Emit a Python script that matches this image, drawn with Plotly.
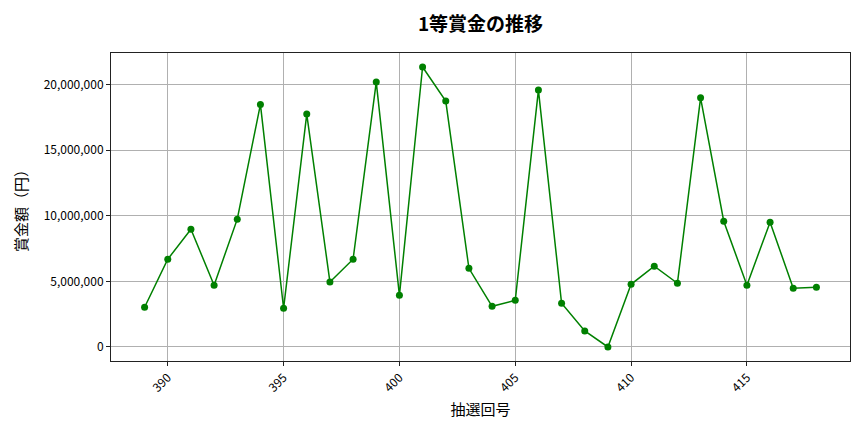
import plotly.graph_objects as go

# ============================================================
# DATA
# ============================================================
draw_no = list(range(389, 419))
prize = [
    3030000, 6690000, 8980000, 4710000, 9750000, 18500000, 2950000, 17760000,
    4960000, 6690000, 20200000, 3940000, 21350000, 18750000, 6000000, 3100000,
    3560000, 19590000, 3330000, 1220000, 0, 4780000, 6160000, 4860000,
    19000000, 9590000, 4710000, 9520000, 4480000, 4550000,
]
x_ticks = [390, 395, 400, 405, 410, 415]
y_ticks = [0, 5000000, 10000000, 15000000, 20000000]

FONT = "Noto Sans CJK JP"

# ============================================================
# FIGURE
# ============================================================
fig = go.Figure(
    go.Scatter(
        x=draw_no,
        y=prize,
        mode="lines+markers",
        line=dict(color="green", width=1.5),
        marker=dict(color="green", size=7),
    )
)

# page body has ~8px default margin, so shift the plot area back
fig.update_layout(
    width=864,
    height=432,
    plot_bgcolor="white",
    paper_bgcolor="white",
    showlegend=False,
    font=dict(family=FONT, size=12, color="black"),
    margin=dict(l=103, r=22, t=45, b=79),
    title=dict(
        text="<b>1等賞金の推移</b>",
        x=0.5, xref="paper", y=0.962, yanchor="middle",
        font=dict(family=FONT, size=19, color="black"),
    ),
)

fig.update_xaxes(
    range=[387.55, 419.45],
    tickvals=x_ticks,
    tickangle=-45,
    showgrid=True, gridcolor="#b0b0b0", gridwidth=1,
    showline=True, linecolor="#222", linewidth=1, mirror=True,
    ticks="outside", ticklen=4, tickcolor="#222",
    zeroline=False,
    title=dict(text="抽選回号", font=dict(family=FONT, size=15), standoff=10),
)

fig.update_yaxes(
    range=[-1070000, 22420000],
    tickvals=y_ticks,
    tickformat=",d",
    showgrid=True, gridcolor="#b0b0b0", gridwidth=1,
    showline=True, linecolor="#222", linewidth=1, mirror=True,
    ticks="outside", ticklen=4, tickcolor="#222",
    zeroline=False,
    title=dict(text="賞金額（円）", font=dict(family=FONT, size=15), standoff=12),
)

fig.write_html("out.html")
